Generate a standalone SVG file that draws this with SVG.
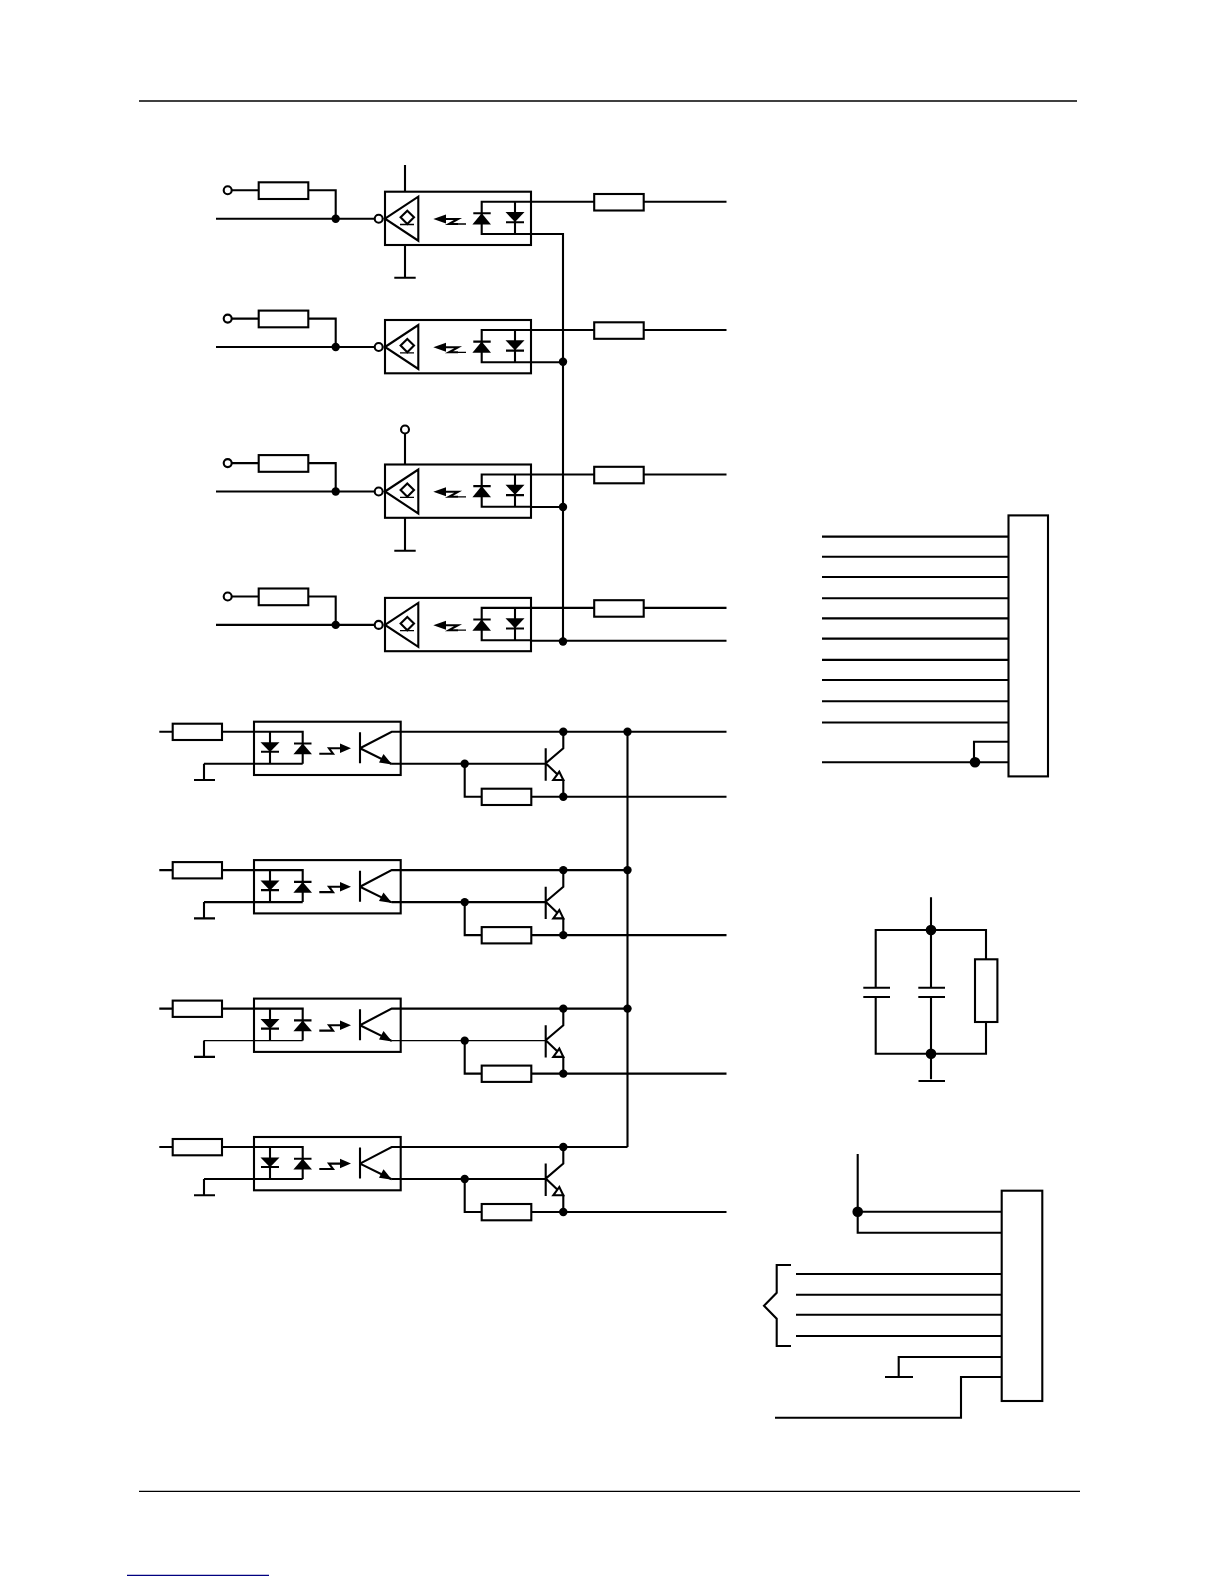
<svg xmlns="http://www.w3.org/2000/svg" width="1224" height="1584" viewBox="0 0 1224 1584">
<style>
.w{fill:none;stroke:#000;stroke-width:2.1;stroke-linejoin:miter}
.n{fill:none;stroke:#000;stroke-width:1.3}
.o{fill:#fff;stroke:#000;stroke-width:2.1}
.f{fill:#000;stroke:none}
</style>
<defs>
<g id="recv">
<circle class="o" cx="227.7" cy="190.3" r="4"/>
<path class="w" d="M232 190.3H258.7M308.3 190.3H335.7V218.7M216 218.7H374.7"/>
<rect class="w" x="258.7" y="182.3" width="49.6" height="16.7"/>
<circle class="f" cx="335.7" cy="218.7" r="4.2"/>
<circle class="o" cx="378.7" cy="218.7" r="4"/>
<rect class="w" x="385" y="191.7" width="146" height="53.3"/>
<path class="w" d="M385 218.7L418.3 196.7V240.7Z"/>
<path class="w" d="M407.3 210.7L414 217.3L407.3 224L400.6 217.3Z"/>
<path class="n" d="M400 224.5H414M458 224H466"/>
<path class="f" d="M433.3 219L446 214.5V223.5Z"/>
<path class="w" d="M445 219H458L449 224H458"/>
<path class="w" d="M531 201.7H481.7V234H531M515 201.7V234M473.3 213.3H490.7M506 222.3H524"/>
<path class="f" d="M481.7 213.3L491 224.5H472.4Z"/>
<path class="f" d="M505.5 212H524.5L515 222Z"/>
<path class="w" d="M531 201.7H594.2M643.7 201.7H726.5"/>
<rect class="w" x="594.2" y="194" width="49.5" height="16.5"/>
</g>
<g id="opto">
<path class="w" d="M159.3 731.7H172.7M222 731.7H302.7V763.7M204 763.7V780M194 780H215"/>
<rect class="w" x="172.7" y="723.7" width="49.3" height="16.3"/>
<rect class="w" x="254" y="721.7" width="146.7" height="53.3"/>
<path class="w" d="M270 731.7V763.7M261 751.7H279M294 743.5H311.5"/>
<path class="f" d="M260.5 742.2H279.5L270 752Z"/>
<path class="f" d="M302.7 743.5L312 754.3H293.4Z"/>
<path class="w" d="M319.3 753.7H333L329 748.3H342"/>
<path class="f" d="M351 748.3L340 743.5V753Z"/>
<path class="w" d="M360 732.3V763.3M360 748.3L391.7 731.7H563.3M360 748.3L391.7 764"/>
<path class="f" d="M392 764.5L379 762.5L383.5 754Z"/>
<circle class="f" cx="464.7" cy="763.7" r="4.2"/>
<path class="w" d="M464.7 763.7V796.7H481.7M531.3 796.7H726.5"/>
<rect class="w" x="481.7" y="788.7" width="49.6" height="16.3"/>
<path class="w" d="M545.7 748.3V780.7M545.7 763.3L563.3 748.3V731.7M545.7 763.3L563.3 780V796.7"/>
<path class="o" d="M559.3 771.7L553.3 780H563.3Z"/>
<circle class="f" cx="563.3" cy="731.7" r="4.2"/>
<circle class="f" cx="563.3" cy="796.7" r="4.2"/>
</g>
<path id="b" d="M302.7 763.7H204M391.7 763.7H545.7"/>
</defs>
<path id="header-rule" fill="none" stroke="#000" stroke-width="1.3" d="M139 101H1077"/>
<path id="footer-rule" fill="none" stroke="#000" stroke-width="1.3" d="M139 1491.3H1080"/>
<path id="link-rule" fill="none" stroke="#000080" stroke-width="1.3" d="M127 1575.3H269"/>
<g id="receiver-1"><use href="#recv"/><path class="w" d="M405 165V191.7M405 245V277.7M394.3 277.7H415.7"/></g>
<g id="receiver-2"><use href="#recv" y="128.3"/></g>
<g id="receiver-3"><use href="#recv" y="272.8"/><circle class="o" cx="405" cy="429.5" r="4"/><path class="w" d="M405 433.5V464.5M405 517.8V550.7M394.3 550.7H415.7"/></g>
<g id="receiver-4"><use href="#recv" y="406.2"/></g>
<g id="driver-1"><use href="#opto"/><use href="#b" class="w"/></g>
<g id="driver-2"><use href="#opto" y="138.4"/><use href="#b" class="w" y="138.4"/></g>
<g id="driver-3"><use href="#opto" y="276.9"/><use href="#b" class="n" y="276.9"/></g>
<g id="driver-4"><use href="#opto" y="415.3"/><use href="#b" class="w" y="415.3"/></g>
<g id="connector-upper">
<rect class="w" x="1008.5" y="515.4" width="39.5" height="261"/>
</g>
<g id="rc-network">
<rect class="w" x="975" y="959.3" width="22.4" height="62.7"/>
<path class="w" d="M863.3 987.7H890M863.3 997H890M918.3 987.7H945M918.3 997H945"/>
</g>
<g id="connector-lower">
<rect class="w" x="1001.7" y="1190.7" width="40.6" height="210.3"/>
</g>
<g id="connectors">
<path class="w" d="M531 234H563V641M531 362.3H563M531 507H563M531 640.7H726.5"/>
<circle class="f" cx="563" cy="361.8" r="4.2"/>
<circle class="f" cx="563" cy="507" r="4.2"/>
<circle class="f" cx="563" cy="641.5" r="4.2"/>
<path class="w" d="M563.3 731.7H726.5M627.5 731.7V1147M563.3 870.1H627.5M563.3 1008.6H627.5M563.3 1147H627.5"/>
<circle class="f" cx="627.5" cy="731.7" r="4.2"/>
<circle class="f" cx="627.5" cy="870.1" r="4.2"/>
<circle class="f" cx="627.5" cy="1008.6" r="4.2"/>
<path class="w" d="M822 536.6H1008.5M822 556.8H1008.5M822 577H1008.5M822 598.2H1008.5M822 618.4H1008.5M822 638.6H1008.5M822 659.9H1008.5M822 680H1008.5M822 701.3H1008.5M822 722.5H1008.5M822 762.3H1008.5M974 762.3V741.7H1008.5"/>
<circle class="f" cx="975" cy="762.3" r="5.3"/>
<path class="w" d="M931 897.3V987.7M931 997V1079.3M875.7 987.7V930H986V959.3M986 1022V1053.7H875.7V997M918.5 1081H945"/>
<circle class="f" cx="931" cy="930" r="5.3"/>
<circle class="f" cx="931" cy="1053.7" r="5.3"/>
<path class="w" d="M857.7 1154V1232.7H1001.7M857.7 1211.7H1001.7M796 1274H1001.7M796 1294.7H1001.7M796 1314.7H1001.7M796 1336H1001.7M791 1265H776.7V1292.7L764 1305.7L776.7 1318.7V1346H791M1001.7 1357H898.7V1377M885 1377H913M1001.7 1377H961V1417.7H775"/>
<circle class="f" cx="857.7" cy="1211.7" r="5.3"/>
</g>
</svg>
